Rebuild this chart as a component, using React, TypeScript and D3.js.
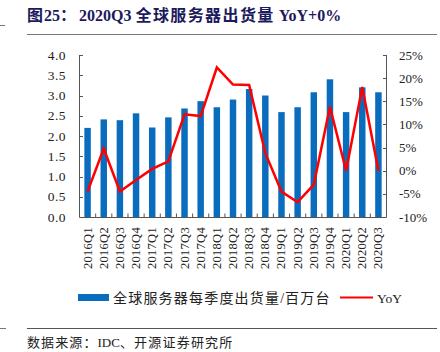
import * as d3 from 'd3';

const quarters = [
  '2016Q1', '2016Q2', '2016Q3', '2016Q4',
  '2017Q1', '2017Q2', '2017Q3', '2017Q4',
  '2018Q1', '2018Q2', '2018Q3', '2018Q4',
  '2019Q1', '2019Q2', '2019Q3', '2019Q4',
  '2020Q1', '2020Q2', '2020Q3',
];
const shipments = [
  2.20, 2.41, 2.39, 2.56,
  2.21, 2.46, 2.68, 2.86,
  2.71, 2.90, 3.16, 3.00,
  2.59, 2.71, 3.08, 3.40,
  2.59, 3.20, 3.08,
];
const yoy = [
  -4.5, 4.8, -4.5, -2.0,
  0.4, 2.0, 12.2, 11.8,
  22.3, 18.6, 18.5, 3.8,
  -4.5, -6.8, -3.0, 13.8,
  0.0, 18.1, 0.0,
];
const leftTicks = [0, 0.5, 1, 1.5, 2, 2.5, 3, 3.5, 4];
const rightTicks = [-10, -5, 0, 5, 10, 15, 20, 25];

const W = 440;
const H = 352;
const plot = { left: 79.5, right: 386.5, top: 55, bottom: 217 };
const serif = '"Liberation Serif", "Times New Roman", "Noto Sans CJK SC", serif';
const cjk = '"Liberation Serif", "Noto Sans CJK SC", serif';

export default function App() {
  const x = d3.scaleBand<string>().domain(quarters).range([plot.left, plot.right]);
  const yL = d3.scaleLinear().domain([0, 4]).range([plot.bottom, plot.top]);
  const yR = d3.scaleLinear().domain([-10, 25]).range([plot.bottom, plot.top]);
  const barW = x.bandwidth() * 0.4;

  const line = d3.line<number>()
    .x((_, i) => x(quarters[i])! + x.bandwidth() / 2)
    .y(d => yR(d));

  return (
    <svg width={W} height={H} style={{ position: 'absolute', left: 0, top: 0, background: '#fff' }}>
      {/* title */}
      <text x={27} y={21} fontFamily={cjk} fontSize={16} fontWeight="bold" fill="#1c1a5c">
        <tspan letterSpacing={1}>图</tspan>
        <tspan>25</tspan>
        <tspan letterSpacing={1}>：</tspan>
        <tspan dx={2}>2020Q3 </tspan>
        <tspan letterSpacing={1.4}>全球服务器出货量</tspan>
        <tspan> YoY+0%</tspan>
      </text>
      <line x1={0} x2={5} y1={25.5} y2={25.5} stroke="#777" />
      <line x1={27} x2={437} y1={34.5} y2={34.5} stroke="#777" strokeWidth={1} />

      {/* bars */}
      {shipments.map((v, i) => (
        <rect
          key={quarters[i]}
          x={x(quarters[i])! + (x.bandwidth() - barW) / 2}
          y={yL(v)}
          width={barW}
          height={plot.bottom - yL(v)}
          fill="#0a6cbd"
        />
      ))}

      {/* yoy line */}
      <path d={line(yoy)!} fill="none" stroke="#ff0000" strokeWidth={2.5} strokeLinejoin="miter" />

      {/* axes */}
      <g stroke="#555" strokeWidth={1}>
        <line x1={plot.left} x2={plot.left} y1={plot.top} y2={plot.bottom} />
        <line x1={plot.right} x2={plot.right} y1={plot.top} y2={plot.bottom} />
        <line x1={plot.left} x2={plot.right} y1={plot.bottom + 0.5} y2={plot.bottom + 0.5} />
        {leftTicks.map(t => (
          <line key={'l' + t} x1={plot.left} x2={plot.left + 3.5} y1={Math.round(yL(t)) + 0.5} y2={Math.round(yL(t)) + 0.5} />
        ))}
        {rightTicks.map(t => (
          <line key={'r' + t} x1={plot.right - 3.5} x2={plot.right} y1={Math.round(yR(t)) + 0.5} y2={Math.round(yR(t)) + 0.5} />
        ))}
        {quarters.slice(1).map(q => (
          <line key={'x' + q} x1={x(q)!} x2={x(q)!} y1={plot.bottom} y2={plot.bottom - 3.5} />
        ))}
      </g>

      {leftTicks.map(t => (
        <text key={'lt' + t} x={66} y={yL(t) + 4.5} textAnchor="end" fontFamily={serif} fontSize={13.5} letterSpacing={0.5} fill="#222">
          {d3.format('.1f')(t)}
        </text>
      ))}
      {rightTicks.map(t => (
        <text key={'rt' + t} x={399} y={yR(t) + 4.5} textAnchor="start" fontFamily={serif} fontSize={13} fill="#222">
          {t}%
        </text>
      ))}
      {quarters.map(q => (
        <text
          key={'xl' + q}
          transform={`translate(${x(q)! + x.bandwidth() / 2 + 4},${plot.bottom + 10}) rotate(-90)`}
          textAnchor="end"
          fontFamily={serif}
          fontSize={12.5}
          letterSpacing={0.3}
          fill="#222"
        >
          {q}
        </text>
      ))}

      {/* legend */}
      <rect x={78} y={294} width={31} height={7} fill="#0a6cbd" />
      <text x={113} y={302.5} fontFamily={cjk} fontSize={14} fill="#222">
        <tspan letterSpacing={1.2}>全球服务器每季度出货量</tspan>
        <tspan>/</tspan>
        <tspan letterSpacing={1.2} dx={1}>百万台</tspan>
      </text>
      <line x1={340} x2={373} y1={297.5} y2={297.5} stroke="#ff0000" strokeWidth={2} />
      <text x={377} y={302.5} fontFamily={serif} fontSize={13.5} fill="#222">YoY</text>

      {/* footer */}
      <line x1={0} x2={6} y1={328.5} y2={328.5} stroke="#777" />
      <line x1={27} x2={437} y1={328.5} y2={328.5} stroke="#555" />
      <text x={27} y={347} fontFamily={cjk} fontSize={13} fill="#222">
        <tspan letterSpacing={1.1}>数据来源：</tspan>
        <tspan>IDC</tspan>
        <tspan letterSpacing={1.2}>、开源证券研究所</tspan>
      </text>
    </svg>
  );
}
